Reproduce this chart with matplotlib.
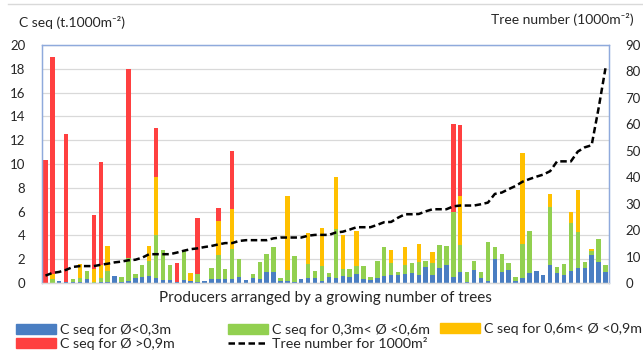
"""Carbon sequestration per producer, stacked by trunk diameter class,
with tree density on a secondary axis."""
import matplotlib

matplotlib.use("Agg")
import matplotlib.pyplot as plt
import numpy as np
from matplotlib.lines import Line2D
from matplotlib.patches import Patch

plt.rcParams["font.family"] = ["Lato", "DejaVu Sans"]

# C seq (t per 1000 m2) by diameter class, one value per producer
c_small = [0, 0, 0.18, 0.1, 0.05, 0.05, 0.34, 0, 0.05, 0.1,
           0.56, 0.1, 0.15, 0.42, 0.5, 0.56, 0.39, 0.22, 0.28, 0.05,
           0.28, 0.15, 0.08, 0.2, 0.34, 0.3, 0.31, 0.3, 0.5, 0.25,
           0.4, 0.3, 0.93, 0.9, 0.2, 0.15, 0.1, 0.3, 0.4, 0.45,
           0.15, 0.53, 0.45, 0.62, 0.53, 0.76, 0.3, 0.25, 0.45, 0.59,
           0.64, 0.7, 0.76, 0.84, 0.64, 1.32, 0.64, 1.26, 1.51, 0.53,
           0.92, 0.1, 1.09, 0.42, 0.2, 2.04, 0.92, 1.12, 0.2, 0.42,
           0.87, 1.03, 0.7, 1.48, 0.87, 0.67, 0.98, 1.26, 1.29, 2.32,
           1.74, 0.92]
c_mid = [0, 0.35, 0, 0, 0.3, 0.37, 0.64, 0.05, 0.4, 0.88,
         0, 0.43, 1.98, 0.37, 0.99, 1.26, 3.68, 2.53, 1.21, 0,
         2.41, 0.05, 0.71, 0, 0.95, 2.03, 0.89, 2.53, 1.5, 0,
         0.33, 1.5, 1.54, 2.1, 0.2, 0.95, 2.2, 0, 1.2, 0.59,
         1.28, 0.28, 4.09, 0.53, 0.65, 0.67, 1.1, 0.28, 1.4, 2.46,
         1.04, 0.22, 0.75, 0.81, 1.15, 0.53, 1.04, 1.91, 1.59, 5.44,
         2.3, 0.8, 0.76, 0.5, 3.25, 0.99, 1.49, 0.56, 0.33, 2.83,
         3.53, 0, 0, 4.88, 0.45, 0.9, 4.06, 3.05, 0.45, 0.37,
         1.96, 0.59]
c_large = [0, 0.4, 0, 0, 0, 1.15, 0, 1.15, 1.05, 2.17,
           0, 0, 0, 0, 0, 1.27, 4.82, 0, 0, 0,
           0, 0.67, 0, 0, 0, 2.87, 0, 3.36, 0, 0,
           0, 0, 0, 0, 0, 6.2, 0, 0, 2.64, 0,
           3.23, 0, 4.34, 2.88, 0, 2.91, 0, 0, 0, 0,
           1.09, 0, 1.54, 0, 1.46, 0, 0.92, 0, 0, 0,
           4.09, 0, 0, 0, 0, 0, 0, 0, 0, 7.7,
           0, 0, 0, 1.15, 0, 0, 0.9, 3.53, 0, 0.17,
           0, 0]
c_xlarge = [10.3, 18.25, 0, 12.45, 0, 0, 0, 4.55, 8.68, 0,
            0, 0, 15.82, 0, 0, 0, 4.11, 0, 0, 1.6,
            0, 0, 4.68, 0, 0, 1.11, 0, 4.91, 0, 0,
            0, 0, 0, 0, 0, 0, 0, 0, 0, 0,
            0, 0, 0, 0, 0, 0, 0, 0, 0, 0,
            0, 0, 0, 0, 0, 0, 0, 0, 0, 7.39,
            5.97, 0, 0, 0, 0, 0, 0, 0, 0, 0,
            0, 0, 0, 0, 0, 0, 0, 0, 0, 0,
            0, 0]
# trees per 1000 m2, producers sorted ascending
tree_number = [2.8, 3.8, 4.2, 5.0, 6.1, 6.4, 6.4, 6.4, 6.9, 7.3,
               7.8, 8.1, 8.6, 8.8, 9.6, 10.9, 10.9, 10.9, 10.9, 11.5,
               12.2, 12.8, 13.1, 13.6, 14.0, 14.6, 15.1, 15.1, 15.9, 16.2,
               16.2, 16.2, 16.2, 16.9, 17.2, 17.2, 17.2, 17.2, 17.9, 18.2,
               18.2, 18.2, 19.1, 19.4, 20.2, 21.1, 21.1, 21.1, 22.0, 23.0,
               23.1, 24.7, 26.0, 26.0, 26.1, 27.1, 27.9, 27.9, 27.9, 29.0,
               29.3, 29.3, 29.3, 29.8, 30.4, 33.7, 34.2, 35.5, 36.7, 38.3,
               39.3, 40.2, 41.0, 42.3, 46.0, 46.0, 46.0, 49.7, 51.3, 52.1,
               66.0, 81.2]

labels = ["C seq for Ø<0,3m", "C seq for 0,3m< Ø <0,6m",
          "C seq for 0,6m< Ø <0,9m", "C seq for Ø >0,9m"]
line_label = "Tree number for 1000m²"
colors = ["#4A7EC2", "#92D050", "#FFC000", "#FF4040"]
BORDER = "#8FAADC"
TXT = "#262626"
DASH = (0, (2.6, 1.4))

fig = plt.figure(figsize=(6.43, 3.56), dpi=100)
ax = fig.add_axes([0.0653, 0.205, 0.8817, 0.6686])
ax2 = ax.twinx()

x = np.arange(len(tree_number))
bottom = np.zeros(len(x))
for vals, col in zip([c_small, c_mid, c_large, c_xlarge], colors):
    vals = np.asarray(vals)
    ax.bar(x, vals, 0.64, bottom=bottom, color=col, linewidth=0)
    bottom += vals

ax2.plot(x, tree_number, color="black", lw=1.8, ls=DASH)

ax.set_xlim(-0.5, len(x) - 0.5)
ax.set_ylim(0, 20)
ax2.set_ylim(0, 90)
ax.set_yticks(np.arange(0, 21, 2))
ax2.set_yticks(np.arange(0, 91, 10))
ax.set_xticks([])
ax.set_axisbelow(True)
ax.yaxis.grid(True, color="#D9D9D9", lw=0.9)
for a in (ax, ax2):
    a.tick_params(axis="y", length=0, pad=12, labelsize=9.5, labelcolor=TXT)
    for s in a.spines.values():
        s.set_color(BORDER)
        s.set_linewidth(0.9)
    a.spines["bottom"].set_color("#D9D9D9")

ax.set_xlabel("Producers arranged by a growing number of trees",
              fontsize=11, color=TXT, labelpad=6)
fig.text(0.029, 0.936, "C seq (t.1000m⁻²)", fontsize=10, color=TXT, va="center")
fig.text(0.985, 0.946, "Tree number (1000m⁻²)", fontsize=10, color=TXT,
         va="center", ha="right")
fig.add_artist(Line2D([0.012, 0.998], [0.988, 0.988], color="#D9D9D9", lw=1.0))

# legend laid out as three evenly spaced columns
handles = [Patch(color=c) for c in colors]
dash = Line2D([], [], color="black", lw=1.8, ls=DASH)
columns = [([handles[0], handles[3]], [labels[0], labels[3]], 0.0249, 0.0534),
           ([handles[1], dash], [labels[1], line_label], 0.3546, 0.0534),
           ([handles[2]], [labels[2]], 0.6843, 0.0758)]
for hs, ls, x0, y0 in columns:
    fig.legend(hs, ls, loc="center left", bbox_to_anchor=(x0, y0),
               frameon=False, fontsize=10.3, handlelength=2.8,
               handleheight=0.65, handletextpad=0.25, labelspacing=0.15,
               borderaxespad=0, borderpad=0, labelcolor=TXT)

fig.savefig("out.png", dpi=100)
